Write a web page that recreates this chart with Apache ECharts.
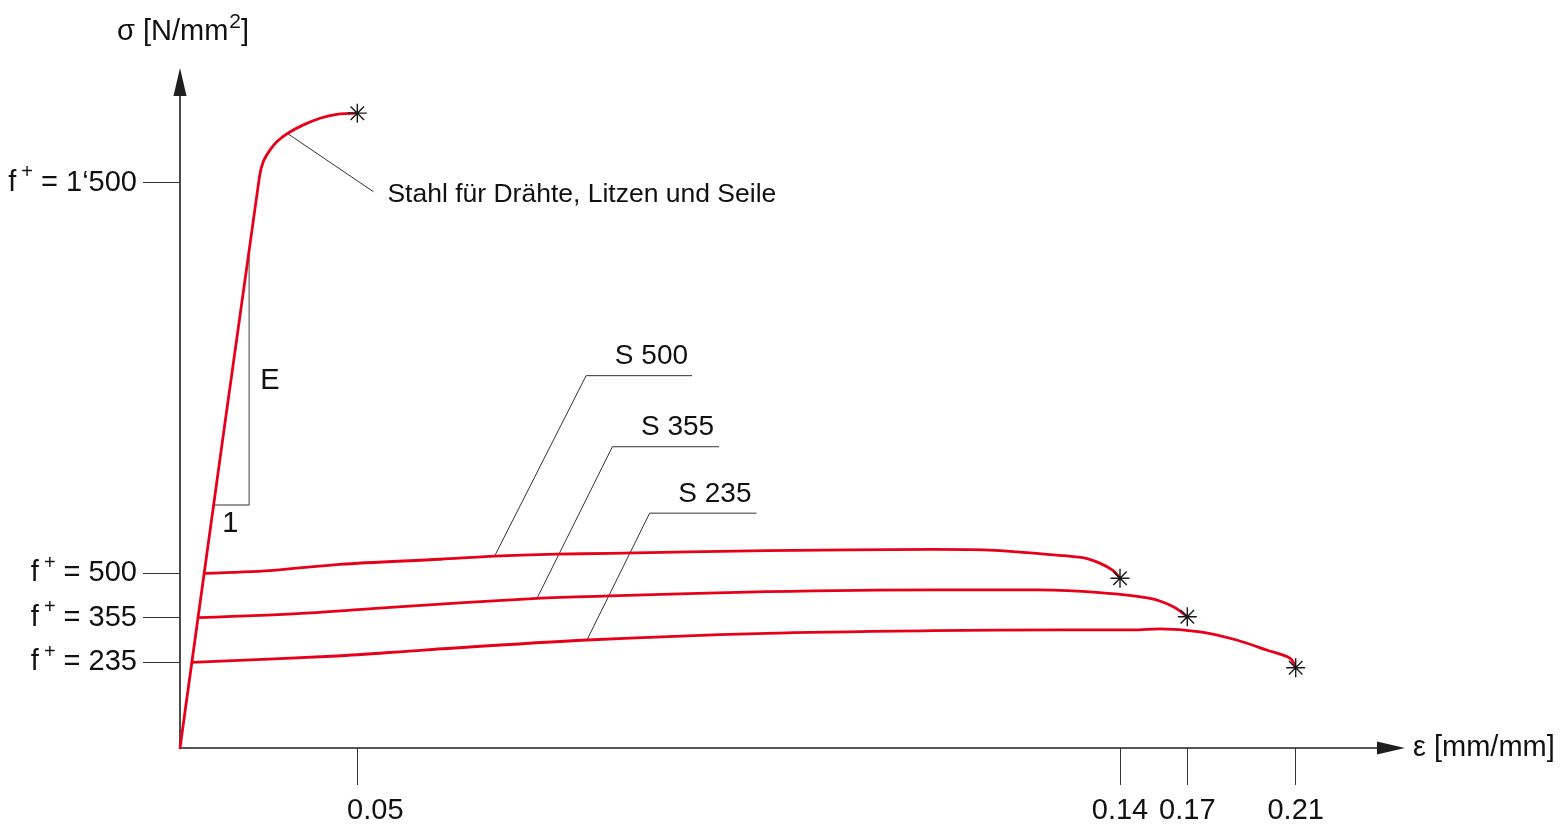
<!DOCTYPE html>
<html>
<head>
<meta charset="utf-8">
<script src="https://cdn.jsdelivr.net/npm/echarts@6/dist/echarts.min.js"></script>
<style>
  html, body { margin: 0; padding: 0; background: #ffffff; }
  #chart { width: 1563px; height: 828px; }
</style>
</head>
<body>
<div id="chart"></div>
<script>
// ---- axis ticks ----------------------------------------------------------
const strainTicks = [0.05, 0.14, 0.17, 0.21];
const strainTickText = ['0.05', '0.14', '0.17', '0.21'];
const stressTicks = [235, 355, 500, 1500];
const stressTickText = ['235', '355', '500', '1‘500'];

// ---- σ–ε curves, points as [ε (mm/mm), σ (N/mm²)] -----------------------
// The wire steel curve carries the common elastic branch from the origin;
// the structural steels start where they leave it at their yield stress.
const wireSteel = [[0, 0], [0.0224, 1515], [0.0235, 1554], [0.0254, 1584], [0.0273, 1605],
  [0.0303, 1626], [0.0348, 1648], [0.0395, 1665], [0.0442, 1675], [0.05, 1678]];
const s500 = [[0.0068, 500], [0.0254, 507], [0.0451, 523], [0.0598, 536], [0.0662, 544],
  [0.0735, 549], [0.0798, 551], [0.0983, 558], [0.1179, 561], [0.1239, 560], [0.1278, 555],
  [0.1317, 548], [0.1356, 540], [0.1376, 526], [0.1392, 507], [0.14, 484]];
const s355 = [[0.0051, 355], [0.0343, 369], [0.0539, 389], [0.0712, 418], [0.0798, 426],
  [0.0983, 440], [0.1179, 446], [0.1306, 446], [0.1376, 437], [0.1534, 418], [0.1638, 391],
  [0.17, 358]];
const s235 = [[0.0034, 235], [0.0442, 252], [0.0578, 268], [0.0771, 295], [0.0983, 313],
  [0.1179, 320], [0.1329, 322], [0.1459, 322], [0.1578, 325], [0.1747, 317], [0.1882, 295],
  [0.1993, 268], [0.2079, 246], [0.21, 220]];

// ---- annotations ---------------------------------------------------------
const curveNames = ['Stahl für Drähte, Litzen und Seile', 'S 500', 'S 355', 'S 235'];
const wireLeader = [[0.0303, 1626], [0.0519, 1477]];
const s500Leader = [[0.0662, 544], [0.077, 1006], [0.0895, 1006]];
const s355Leader = [[0.0712, 418], [0.0801, 824], [0.0927, 824]];
const s235Leader = [[0.0771, 295], [0.0845, 654], [0.0971, 654]];
const slopeTriangle = [[0.0095, 675], [0.0195, 675], [0.0195, 1328]];
const slopeLabels = [[0.0145, 675, '1'], [0.0195, 1001, 'E']];

// ---- schematic (not-to-scale) axes: piecewise-linear placement ------------
// relative position along each axis at the labelled values
const X_SCALE = { v: [0, 0.05, 0.14, 0.17, 0.21], p: [0, 0.14641, 0.77622, 0.83179, 0.9213] };
const Y_SCALE = { v: [0, 235, 355, 500, 1500], p: [0, 0.12868, 0.19565, 0.26231, 0.8488] };
// horizontal nudge (px) of each ε tick label
const X_LABEL_SHIFT = [18, 0, 0, 0];

function place(scale, val) {
  const v = scale.v, p = scale.p;
  let i = 0;
  while (i < v.length - 2 && val > v[i + 1]) i++;
  return p[i] + (val - v[i]) * (p[i + 1] - p[i]) / (v[i + 1] - v[i]);
}
const wx = e => place(X_SCALE, e);
const wy = s => place(Y_SCALE, s);
const toAxes = pts => pts.map(([e, s]) => [wx(e), wy(s)]);
function nearest(list, v) {
  let best = 0;
  list.forEach((x, i) => { if (Math.abs(x - v) < Math.abs(list[best] - v)) best = i; });
  return best;
}

const FONT = "'Liberation Sans', Arial, Helvetica, sans-serif";
const INK = '#111111';
const RED = '#e6001a';
const LEADER = '#333333';
const xTickPos = strainTicks.map(wx);
const yTickPos = stressTicks.map(wy);

// rich styles for the ε labels, one per tick so each can carry its own nudge
const xLabelRich = {};
X_LABEL_SHIFT.forEach((s, i) => {
  xLabelRich['t' + i] = { fontFamily: FONT, fontSize: 29, color: INK, padding: [0, 0, 0, 2 * s] };
});

function curve(name, pts) {
  return {
    type: 'line', name, data: toAxes(pts), symbol: 'none', silent: true, z: 4,
    smooth: 0.3,
    lineStyle: { color: RED, width: 2.8, cap: 'round', join: 'round' }
  };
}

function leader(pts, text, label) {
  const d = toAxes(pts).map(v => ({ value: v }));
  d[d.length - 1].label = Object.assign({
    show: true, formatter: text, position: 'inside',
    fontFamily: FONT, fontSize: 28, color: INK
  }, label);
  return {
    type: 'line', data: d, symbol: 'circle', symbolSize: 2, showSymbol: true, silent: true, z: 3,
    itemStyle: { color: 'rgba(0,0,0,0)' },
    lineStyle: { color: LEADER, width: 1 }
  };
}

const ends = [wireSteel, s500, s355, s235].map(c => c[c.length - 1]);

const option = {
  animation: false,
  backgroundColor: '#ffffff',
  grid: { left: 180, right: 172, top: 82, bottom: 80, outerBoundsMode: 'none', containLabel: false },
  xAxis: {
    type: 'value', min: 0, max: 1,
    name: 'ε [mm/mm]', nameLocation: 'end', nameGap: 22,
    nameTextStyle: { fontFamily: FONT, fontSize: 29, color: INK },
    axisLine: {
      show: true, onZero: false, symbol: ['none', 'triangle'], symbolSize: [13, 28],
      lineStyle: { color: '#1e1e1e', width: 1.6 }
    },
    axisTick: { show: true, customValues: xTickPos, length: 37, lineStyle: { color: '#333333', width: 1 } },
    axisLabel: {
      show: true, customValues: xTickPos, margin: 48,
      fontFamily: FONT, fontSize: 29, color: INK,
      formatter: v => {
        const i = nearest(xTickPos, v);
        return '{t' + i + '|' + strainTickText[i] + '}';
      },
      rich: xLabelRich
    },
    splitLine: { show: false }
  },
  yAxis: {
    type: 'value', min: 0, max: 1,
    name: '{a|σ [N/mm}{s|2}{a|]}', nameLocation: 'end', nameGap: 31,
    nameTextStyle: {
      fontFamily: FONT, color: INK, padding: [0, 0, 0, 6],
      rich: {
        a: { fontFamily: FONT, fontSize: 29, color: INK },
        s: { fontFamily: FONT, fontSize: 21, color: INK, padding: [0, 0, 18, 1] }
      }
    },
    axisLine: {
      show: true, onZero: false, symbol: ['none', 'triangle'], symbolSize: [13, 28],
      lineStyle: { color: '#1e1e1e', width: 1.6 }
    },
    axisTick: { show: true, customValues: yTickPos, length: 37, lineStyle: { color: '#333333', width: 1 } },
    axisLabel: {
      show: true, customValues: yTickPos, margin: 43,
      fontFamily: FONT, color: INK,
      formatter: v => '{f|f}{s|+}{t| = ' + stressTickText[nearest(yTickPos, v)] + '}',
      rich: {
        f: { fontFamily: FONT, fontSize: 29, color: INK },
        s: { fontFamily: FONT, fontSize: 20, color: INK, padding: [0, 0, 20, 5] },
        t: { fontFamily: FONT, fontSize: 29, color: INK }
      }
    },
    splitLine: { show: false }
  },
  series: [
    // slope triangle for the elastic modulus
    {
      type: 'line', data: toAxes(slopeTriangle), symbol: 'none', silent: true, z: 2,
      lineStyle: { color: '#777777', width: 1.4 }
    },
    {
      type: 'scatter', silent: true, z: 2, symbolSize: 1,
      itemStyle: { color: 'rgba(0,0,0,0)', opacity: 1 },
      data: slopeLabels.map(([e, s, t]) => ({
        value: [wx(e), wy(s)],
        label: t === 'E'
          ? { show: true, formatter: t, position: 'inside', align: 'left', verticalAlign: 'middle', offset: [11, 3], fontFamily: FONT, fontSize: 29, color: INK, opacity: 1 }
          : { show: true, formatter: t, position: 'inside', align: 'center', verticalAlign: 'top', offset: [-1, 5], fontFamily: FONT, fontSize: 29, color: INK, opacity: 1 }
      }))
    },
    // leaders with curve names
    leader(wireLeader, curveNames[0], { align: 'left', verticalAlign: 'middle', offset: [14, 3], fontSize: 26.5 }),
    leader(s500Leader, curveNames[1], { align: 'right', verticalAlign: 'bottom', offset: [-4, -5] }),
    leader(s355Leader, curveNames[2], { align: 'right', verticalAlign: 'bottom', offset: [-5, -5] }),
    leader(s235Leader, curveNames[3], { align: 'right', verticalAlign: 'bottom', offset: [-5, -5] }),
    // stress–strain curves
    curve(curveNames[0], wireSteel),
    curve(curveNames[1], s500),
    curve(curveNames[2], s355),
    curve(curveNames[3], s235),
    // rupture marks
    {
      type: 'scatter', silent: true, z: 5,
      symbol: 'path://M-9,0L9,0M0,-9L0,9M-6.4,-6.4L6.4,6.4M-6.4,6.4L6.4,-6.4',
      symbolSize: 19,
      itemStyle: { color: 'rgba(0,0,0,0)', borderColor: '#1a1a1a', borderWidth: 1.4, opacity: 1 },
      data: toAxes(ends)
    }
  ]
};

const chart = echarts.init(document.getElementById('chart'), null, { renderer: 'canvas' });
chart.setOption(option);
</script>
</body>
</html>
